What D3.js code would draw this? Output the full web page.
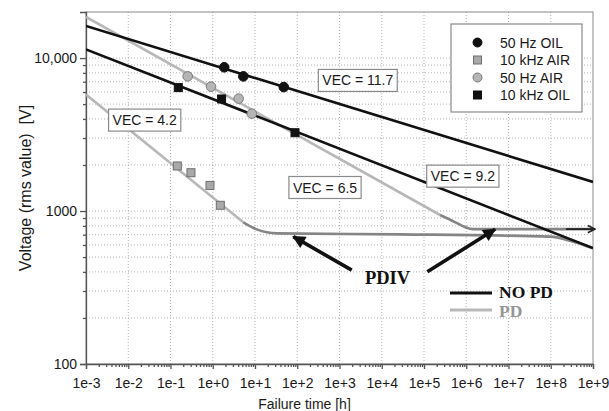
<!DOCTYPE html>
<html lang="en">
<head>
  <meta charset="UTF-8" />
  <title>Failure time vs voltage</title>
  <script src="https://d3js.org/d3.v7.min.js"></script>
  <style>
    body {
      background: white;
      margin: 0;
      padding: 0;
      overflow: hidden;
      font-family: "Liberation Sans", Arial, sans-serif;
    }
  </style>
</head>
<body>
  <div id="chart"></div>
  <script>
    // measured points [failure time h, voltage V]
    const oil50 = [[1.87, 8700], [5.3, 7590], [48, 6460]];
    const oil10k = [[0.153, 6410], [1.62, 5400], [88.5, 3250]];
    const air50 = [[0.255, 7590], [0.91, 6500], [4.1, 5430], [8.4, 4330]];
    const air10k = [[0.145, 1970], [0.305, 1780], [0.86, 1470], [1.51, 1090]];

    // NO PD life lines
    const noPd117 = [[1e-3, 16200], [1e9, 1550]];
    const noPd92 = [[1e-3, 11400], [1e9, 572]];

    // PD life lines: straight part + PDIV knee / plateau
    const air50Line = [[1e-3, 18550], [2.4e5, 942]];
    const air50Knee = [[2.4e5, 942], [5.4e5, 847], [9.3e5, 786], [1.4e6, 762], [1e9, 762]];
    const air10kLine = [[1e-3, 5770], [5.28, 844]];
    const air10kKnee = [[5.28, 844], [11, 759], [18.9, 726], [32.7, 714], [2.7e4, 704], [9.5e7, 680], [3.4e8, 630], [1e9, 570]];

    // VEC labels [text, time, voltage] (box centre)
    const vecLabels = [
      ["VEC = 11.7", 2710, 7140],
      ["VEC = 9.2", 8.3e5, 1690],
      ["VEC = 6.5", 454, 1425],
      ["VEC = 4.2", 0.0245, 3930]
    ];

    // PDIV arrows [from, to]
    const pdivArrows = [
      [[1945, 411], [80.7, 680]],
      [[1.2e5, 401], [4.8e6, 759]]
    ];

    const xExponents = d3.range(-3, 10);
    const yMajor = [100, 1000, 10000];
    const yLabels = ["100", "1000", "10,000"];

    const width = 609, height = 411;
    const margin = { top: 12, right: 16, bottom: 47, left: 86 };

    const svg = d3.select("#chart")
      .append("svg")
      .attr("width", width)
      .attr("height", height);

    const x = d3.scaleLog().domain([1e-3, 1e9]).range([margin.left, width - margin.right]);
    const y = d3.scaleLog().domain([100, 20000]).range([height - margin.bottom, margin.top]);

    const x0 = x.range()[0], x1 = x.range()[1];
    const y0 = y.range()[0], y1 = y.range()[1];

    // minor tick values
    const xMinor = [];
    xExponents.slice(0, -1).forEach(e => {
      for (let k = 2; k <= 9; k++) xMinor.push(k * Math.pow(10, e));
    });
    const yMinor = [];
    [100, 1000].forEach(d => {
      for (let k = 2; k <= 9; k++) yMinor.push(k * d);
    });

    // grid
    const grid = svg.append("g")
      .attr("stroke", "#b4b4b4")
      .attr("stroke-width", 1)
      .attr("stroke-dasharray", "1,2");

    grid.selectAll(".vg")
      .data(xExponents.slice(1, -1).map(e => Math.pow(10, e)))
      .enter()
      .append("line")
      .attr("x1", d => x(d)).attr("x2", d => x(d))
      .attr("y1", y1).attr("y2", y0);

    grid.selectAll(".hg")
      .data(yMinor.concat([1000, 10000]))
      .enter()
      .append("line")
      .attr("x1", x0).attr("x2", x1)
      .attr("y1", d => y(d)).attr("y2", d => y(d));

    // frame
    svg.append("rect")
      .attr("x", x0).attr("y", y1)
      .attr("width", x1 - x0).attr("height", y0 - y1)
      .attr("fill", "none")
      .attr("stroke", "#8a8a8a")
      .attr("stroke-width", 1);

    // axes
    const fmtX = d => {
      const e = Math.round(Math.log10(d));
      return "1e" + (e < 0 ? "-" : "+") + Math.abs(e);
    };

    const xAxis = svg.append("g")
      .attr("transform", `translate(0,${y0})`)
      .call(d3.axisBottom(x)
        .tickValues(xExponents.map(e => Math.pow(10, e)))
        .tickFormat(fmtX)
        .tickSize(5)
        .tickPadding(9));

    svg.append("g")
      .attr("transform", `translate(0,${y0})`)
      .call(d3.axisBottom(x).tickValues(xMinor).tickFormat("").tickSize(3))
      .call(g => g.select(".domain").remove());

    const yAxis = svg.append("g")
      .attr("transform", `translate(${x0},0)`)
      .call(d3.axisLeft(y)
        .tickValues(yMajor)
        .tickFormat((d, i) => yLabels[i])
        .tickSize(6)
        .tickPadding(3));

    svg.append("g")
      .attr("transform", `translate(${x0},0)`)
      .call(d3.axisLeft(y).tickValues(yMinor.filter(d => d !== 1000)).tickFormat("").tickSize(3))
      .call(g => g.select(".domain").remove());

    svg.selectAll(".domain, .tick line")
      .attr("stroke", "#555")
      .attr("stroke-width", 1.3);

    [xAxis, yAxis].forEach(g => g.selectAll("text")
      .attr("fill", "#1a1a1a")
      .style("font-family", "'Liberation Sans', Arial, sans-serif")
      .style("font-size", "14px"));

    svg.append("text")
      .attr("x", width / 2)
      .attr("y", 409)
      .attr("text-anchor", "middle")
      .attr("fill", "#1a1a1a")
      .style("font-size", "14px")
      .text("Failure time [h]");

    svg.append("text")
      .attr("transform", `translate(31,${(y0 + y1) / 2}) rotate(-90)`)
      .attr("text-anchor", "middle")
      .attr("fill", "#1a1a1a")
      .style("font-size", "16px")
      .style("white-space", "pre")
      .text("Voltage (rms value)  [V]");

    // lines
    svg.append("clipPath")
      .attr("id", "plot-clip")
      .append("rect")
      .attr("x", x0).attr("y", y1)
      .attr("width", x1 - x0).attr("height", y0 - y1);

    const plot = svg.append("g").attr("clip-path", "url(#plot-clip)");

    const line = d3.line()
      .x(d => x(d[0]))
      .y(d => y(d[1]))
      .curve(d3.curveMonotoneX);

    const lightGray = "#b8b8b8", midGray = "#858585";

    [
      [air50Line, lightGray],
      [air10kLine, lightGray],
      [air50Knee, midGray],
      [air10kKnee, midGray],
      [noPd117, "#111"],
      [noPd92, "#111"]
    ].forEach(([d, c]) => {
      plot.append("path")
        .datum(d)
        .attr("d", line)
        .attr("fill", "none")
        .attr("stroke", c)
        .attr("stroke-width", 2.6);
    });

    // markers
    const drawCircles = (data, fill, stroke) => {
      svg.append("g").selectAll("circle")
        .data(data)
        .enter()
        .append("circle")
        .attr("cx", d => x(d[0]))
        .attr("cy", d => y(d[1]))
        .attr("r", 4.8)
        .attr("fill", fill)
        .attr("stroke", stroke)
        .attr("stroke-width", 1);
    };
    const drawSquares = (data, fill, stroke) => {
      const s = 8;
      svg.append("g").selectAll("rect")
        .data(data)
        .enter()
        .append("rect")
        .attr("x", d => x(d[0]) - s / 2)
        .attr("y", d => y(d[1]) - s / 2)
        .attr("width", s)
        .attr("height", s)
        .attr("fill", fill)
        .attr("stroke", stroke)
        .attr("stroke-width", 1);
    };

    drawCircles(oil50, "#111", "#111");
    drawSquares(oil10k, "#111", "#111");
    drawCircles(air50, "#b5b5b5", "#7a7a7a");
    drawSquares(air10k, "#a9a9a9", "#6e6e6e");

    // VEC labels
    vecLabels.forEach(([txt, t, v]) => {
      const g = svg.append("g");
      const rect = g.append("rect");
      const label = g.append("text")
        .attr("x", x(t))
        .attr("y", y(v))
        .attr("dy", "0.36em")
        .attr("text-anchor", "middle")
        .attr("fill", "#1a1a1a")
        .style("font-size", "14px")
        .text(txt);
      const w = label.node().getComputedTextLength() + 8;
      rect.attr("x", x(t) - w / 2)
        .attr("y", y(v) - 11)
        .attr("width", w)
        .attr("height", 22)
        .attr("fill", "white")
        .attr("stroke", "#8a8a8a")
        .attr("stroke-width", 1.2);
    });

    // legend (symbols)
    const legendItems = [
      { name: "50 Hz OIL", shape: "circle", fill: "#111", stroke: "#111" },
      { name: "10 kHz AIR", shape: "square", fill: "#a9a9a9", stroke: "#6e6e6e" },
      { name: "50 Hz AIR", shape: "circle", fill: "#b5b5b5", stroke: "#7a7a7a" },
      { name: "10 kHz OIL", shape: "square", fill: "#111", stroke: "#111" }
    ];

    const legend = svg.append("g").attr("transform", "translate(451,24)");
    legend.append("rect")
      .attr("width", 131)
      .attr("height", 88)
      .attr("fill", "white")
      .attr("stroke", "#8a8a8a")
      .attr("stroke-width", 1.2);

    legendItems.forEach((d, i) => {
      const cy = 18.5 + i * 17.5;
      if (d.shape === "circle") {
        legend.append("circle")
          .attr("cx", 26.5).attr("cy", cy).attr("r", 4.5)
          .attr("fill", d.fill).attr("stroke", d.stroke);
      } else {
        legend.append("rect")
          .attr("x", 22.5).attr("y", cy - 4).attr("width", 8).attr("height", 8)
          .attr("fill", d.fill).attr("stroke", d.stroke);
      }
      legend.append("text")
        .attr("x", 49)
        .attr("y", cy)
        .attr("dy", "0.36em")
        .attr("fill", "#1a1a1a")
        .style("font-size", "14px")
        .text(d.name);
    });

    // arrows
    const defs = svg.append("defs");
    defs.append("marker")
      .attr("id", "head")
      .attr("viewBox", "0 0 10 10")
      .attr("refX", 9).attr("refY", 5)
      .attr("markerUnits", "userSpaceOnUse")
      .attr("markerWidth", 17).attr("markerHeight", 13)
      .attr("orient", "auto")
      .append("path")
      .attr("d", "M0,0 L10,5 L0,10 Z")
      .attr("fill", "#111");

    defs.append("marker")
      .attr("id", "open-head")
      .attr("viewBox", "0 0 10 10")
      .attr("refX", 9).attr("refY", 5)
      .attr("markerUnits", "userSpaceOnUse")
      .attr("markerWidth", 9).attr("markerHeight", 9)
      .attr("orient", "auto")
      .append("path")
      .attr("d", "M1,1 L9,5 L1,9")
      .attr("fill", "none")
      .attr("stroke", "#222")
      .attr("stroke-width", 1.8);

    pdivArrows.forEach(([a, b]) => {
      svg.append("line")
        .attr("x1", x(a[0])).attr("y1", y(a[1]))
        .attr("x2", x(b[0])).attr("y2", y(b[1]))
        .attr("stroke", "#111")
        .attr("stroke-width", 3.6)
        .attr("marker-end", "url(#head)");
    });

    // small arrow at the end of the upper plateau
    const lastKnee = air50Knee[air50Knee.length - 1];
    svg.append("line")
      .attr("x1", x1 - 27).attr("y1", y(lastKnee[1]))
      .attr("x2", x1 + 2).attr("y2", y(lastKnee[1]))
      .attr("stroke", "#222")
      .attr("stroke-width", 1.8)
      .attr("marker-end", "url(#open-head)");

    svg.append("text")
      .attr("x", 387.5)
      .attr("y", 283.5)
      .attr("text-anchor", "middle")
      .attr("fill", "#111")
      .style("font-family", "'Liberation Serif', 'Times New Roman', serif")
      .style("font-weight", "bold")
      .style("font-size", "18.5px")
      .text("PDIV");

    // NO PD / PD key
    const key = [
      { name: "NO PD", line: "#111", text: "#111" },
      { name: "PD", line: "#b8b8b8", text: "#969696" }
    ];
    key.forEach((d, i) => {
      const yy = 293 + i * 17;
      svg.append("line")
        .attr("x1", 450).attr("x2", 492)
        .attr("y1", yy).attr("y2", yy)
        .attr("stroke", d.line)
        .attr("stroke-width", 3);
      svg.append("text")
        .attr("x", 499)
        .attr("y", yy + 4.5 + i * 2.5)
        .attr("fill", d.text)
        .style("font-family", "'Liberation Serif', 'Times New Roman', serif")
        .style("font-weight", "bold")
        .style("font-size", "17.5px")
        .text(d.name);
    });
  </script>
</body>
</html>
